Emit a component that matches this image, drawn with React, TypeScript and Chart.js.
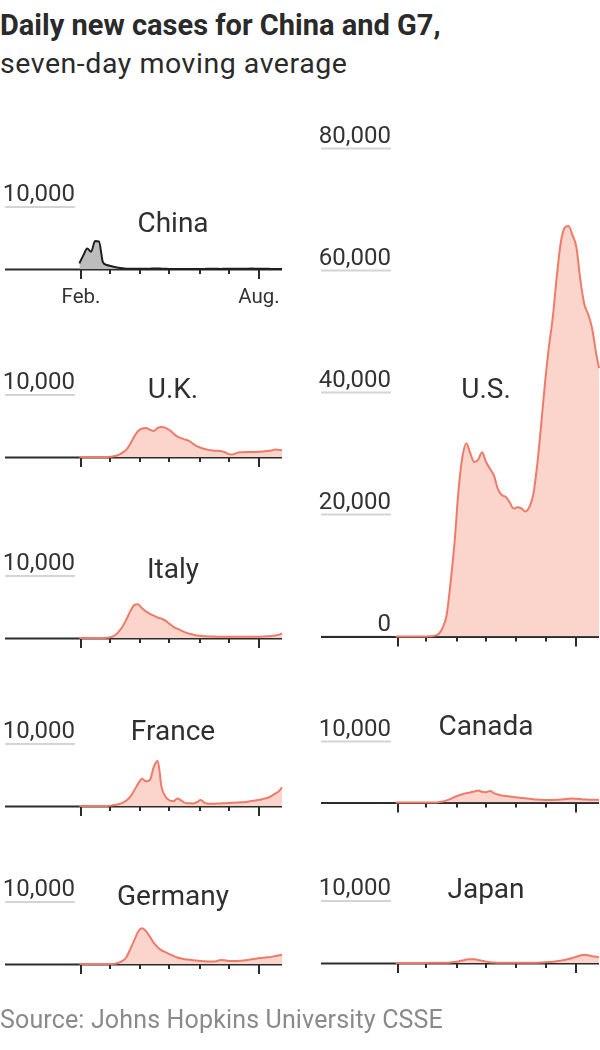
import React, { useEffect, useRef } from "react";
import { Chart, registerables } from "chart.js";

Chart.register(...registerables);

// Day offsets relative to Feb. 1, 2020
const DAYS = [-2, 2, 6, 10, 14, 18, 22, 26, 30, 34, 38, 42, 46, 50, 54, 58, 62, 66, 70, 74, 78, 82, 86, 90, 94, 98, 102, 106, 110, 114, 118, 122, 126, 130, 134, 138, 142, 146, 150, 154, 158, 162, 166, 170, 174, 178, 182, 186, 190, 194, 198, 202, 205];

const CHINA = [900, 2200, 3300, 2800, 4500, 4450, 1100, 650, 480, 330, 200, 110, 60, 50, 50, 60, 50, 40, 40, 80, 100, 60, 30, 15, 10, 10, 10, 15, 15, 10, 10, 15, 20, 25, 30, 25, 20, 40, 60, 50, 40, 30, 40, 60, 70, 60, 40, 30, 25, 20, 20, 20, 20];
const UK = [0, 0, 0, 0, 0, 0, 5, 10, 30, 150, 350, 700, 1200, 2100, 3300, 4200, 4600, 4680, 4400, 4200, 4700, 4850, 4700, 4350, 3800, 3300, 3050, 2800, 2600, 2150, 1750, 1500, 1300, 1150, 1050, 1000, 970, 800, 500, 400, 600, 750, 780, 790, 800, 800, 850, 900, 970, 1050, 1190, 1150, 1080];
const ITALY = [0, 0, 0, 0, 0, 0, 5, 30, 120, 400, 1000, 1800, 3000, 4300, 5300, 5450, 4800, 4300, 3900, 3600, 3300, 3100, 2800, 2300, 1800, 1500, 1200, 900, 700, 550, 420, 360, 300, 260, 230, 210, 200, 200, 200, 200, 190, 190, 200, 200, 200, 200, 210, 240, 280, 330, 400, 550, 740];
const FRANCE = [0, 0, 0, 0, 0, 0, 0, 10, 60, 150, 280, 520, 900, 1500, 2500, 3600, 4400, 4000, 4200, 6300, 7300, 3000, 1500, 900, 750, 1200, 900, 500, 450, 400, 600, 950, 500, 350, 350, 400, 420, 450, 480, 520, 550, 580, 620, 700, 800, 900, 1000, 1150, 1300, 1600, 2000, 2400, 3000];
const GERMANY = [0, 0, 0, 0, 0, 0, 0, 0, 0, 20, 200, 500, 1100, 2400, 3800, 5200, 5750, 5300, 4400, 3400, 2700, 2200, 1900, 1600, 1300, 1050, 900, 780, 700, 620, 550, 480, 430, 420, 400, 450, 650, 600, 500, 470, 480, 520, 580, 650, 750, 850, 950, 1000, 1080, 1150, 1280, 1400, 1500];
const US = [0, 0, 0, 0, 0, 0, 0, 0, 20, 50, 150, 450, 1500, 3600, 9000, 15500, 24000, 29500, 31700, 30000, 28600, 29000, 30200, 28600, 27500, 26400, 24200, 23200, 22900, 22000, 21000, 21200, 21000, 20500, 21200, 23200, 28000, 34500, 41500, 47500, 52400, 59000, 64500, 67000, 67300, 65800, 63800, 58500, 54500, 52800, 50500, 46500, 44000];
const CANADA = [0, 0, 0, 0, 0, 0, 0, 0, 0, 0, 0, 60, 160, 350, 600, 900, 1150, 1350, 1540, 1650, 1800, 1950, 1750, 1700, 1900, 1550, 1300, 1150, 1050, 980, 900, 820, 750, 680, 600, 530, 480, 440, 420, 410, 420, 440, 480, 550, 620, 660, 620, 560, 500, 470, 450, 440, 430];
const JAPAN = [0, 0, 0, 0, 5, 10, 15, 20, 20, 30, 40, 40, 50, 60, 100, 150, 250, 400, 550, 620, 600, 500, 350, 220, 130, 80, 50, 40, 35, 35, 40, 40, 45, 50, 50, 55, 60, 80, 110, 150, 200, 270, 380, 500, 650, 820, 1000, 1200, 1330, 1250, 1100, 1000, 960];

const MONTH_DAYS = [0, 29, 60, 90, 121, 151, 182];
const MONTH_LABELS = ["Feb.", "", "", "", "", "", "Aug."];
const SMALL_TICKS = [10000];
const US_TICKS = [0, 20000, 40000, 60000, 80000];

const X_MIN = -78;
const X_MAX = 205;
const FONT = "Roboto, 'Noto Sans', sans-serif";

const PANELS = [
  { name: "China", values: CHINA, col: 0, baseline: 269, px: 0.0062, ymax: 20000, labelOff: 37, ticks: SMALL_TICKS, months: true, china: true },
  { name: "U.K.", values: UK, col: 0, baseline: 457, px: 0.0062, ymax: 20000, labelOff: 59, ticks: SMALL_TICKS },
  { name: "Italy", values: ITALY, col: 0, baseline: 638, px: 0.0062, ymax: 20000, labelOff: 60, ticks: SMALL_TICKS },
  { name: "France", values: FRANCE, col: 0, baseline: 806, px: 0.0062, ymax: 20000, labelOff: 66, ticks: SMALL_TICKS },
  { name: "Germany", values: GERMANY, col: 0, baseline: 964, px: 0.0062, ymax: 20000, labelOff: 59, ticks: SMALL_TICKS },
  { name: "U.S.", values: US, col: 1, baseline: 636.5, px: 0.0061, ymax: 85000, labelOff: 239, ticks: US_TICKS },
  { name: "Canada", values: CANADA, col: 1, baseline: 802.5, px: 0.0061, ymax: 20000, labelOff: 68, ticks: SMALL_TICKS },
  { name: "Japan", values: JAPAN, col: 1, baseline: 963, px: 0.0062, ymax: 20000, labelOff: 65, ticks: SMALL_TICKS },
];

const TOP_PAD = 12;
const BOTTOM_PAD = 42;

function makeDecor(p: any) {
  return {
    id: "panelDecor",
    beforeDatasetsDraw(chart: any) {
      const { ctx, chartArea, scales } = chart;
      const x = scales.x;
      const y = scales.y;
      ctx.save();
      for (const v of p.ticks) {
        const py = y.getPixelForValue(v);
        ctx.strokeStyle = "#d4d4d4";
        ctx.lineWidth = 2;
        ctx.beginPath();
        ctx.moveTo(chartArea.left, py);
        ctx.lineTo(chartArea.left + 70, py);
        ctx.stroke();
        ctx.fillStyle = "#333";
        ctx.font = `24px ${FONT}`;
        ctx.textAlign = "right";
        ctx.textBaseline = "alphabetic";
        ctx.fillText(v.toLocaleString("en-US"), chartArea.left + 70, py - 6);
      }
      const y0 = y.getPixelForValue(0);
      ctx.strokeStyle = "#2b2b2b";
      ctx.lineWidth = 2;
      ctx.beginPath();
      ctx.moveTo(chartArea.left, y0 + 0.5);
      ctx.lineTo(chartArea.right, y0 + 0.5);
      ctx.stroke();
      MONTH_DAYS.forEach((d, i) => {
        const px = Math.round(x.getPixelForValue(d));
        const long = i === 0 || i === MONTH_DAYS.length - 1;
        ctx.beginPath();
        ctx.moveTo(px, y0);
        ctx.lineTo(px, y0 + (long ? 10 : 5));
        ctx.stroke();
        if (p.months && MONTH_LABELS[i]) {
          ctx.fillStyle = "#333";
          ctx.font = `20.5px ${FONT}`;
          ctx.textAlign = "center";
          ctx.fillText(MONTH_LABELS[i], px, y0 + 34);
        }
      });
      ctx.restore();
    },
    afterDatasetsDraw(chart: any) {
      const { ctx, chartArea, scales } = chart;
      const y0 = scales.y.getPixelForValue(0);
      ctx.save();
      ctx.fillStyle = "#2f2f2f";
      ctx.font = `28px ${FONT}`;
      ctx.textAlign = "center";
      ctx.textBaseline = "alphabetic";
      ctx.fillText(p.name, chartArea.left + (p.col === 0 ? 168 : 165), y0 - p.labelOff);
      ctx.restore();
    },
  };
}

function Panel({ p }: { p: any }) {
  const ref = useRef<HTMLCanvasElement | null>(null);
  const area = p.ymax * p.px;
  const top = Math.round(p.baseline - area - TOP_PAD);
  const height = Math.round(p.baseline + BOTTOM_PAD) - top;
  const left = p.col === 0 ? 0 : 300;
  const padTop = p.baseline - area - top;
  const padBottom = top + height - p.baseline;

  useEffect(() => {
    if (!ref.current) return;
    const chart = new Chart(ref.current, {
      type: "line",
      data: {
        datasets: [
          {
            data: DAYS.map((d, i) => ({ x: d, y: p.values[i] })),
            borderColor: p.china ? "#1e1e1e" : "#ee7b6a",
            backgroundColor: p.china ? "#bdbdbd" : "#fbd5cb",
            borderWidth: 2,
            fill: "origin",
            pointRadius: 0,
            cubicInterpolationMode: "monotone",
            clip: false as any,
          },
        ],
      },
      options: {
        responsive: false,
        animation: false,
        devicePixelRatio: 1,
        events: [],
        layout: {
          padding: {
            left: p.col === 0 ? 5 : 21,
            right: p.col === 0 ? 18 : 1,
            top: padTop,
            bottom: padBottom,
          },
        },
        plugins: { legend: { display: false }, tooltip: { enabled: false } },
        scales: {
          x: { type: "linear", min: X_MIN, max: X_MAX, display: false },
          y: { type: "linear", min: 0, max: p.ymax, display: false },
        },
      },
      plugins: [makeDecor(p)],
    });
    return () => chart.destroy();
  }, []);

  return (
    <canvas
      ref={ref}
      width={300}
      height={height}
      style={{ position: "absolute", left, top, width: 300, height, display: "block" }}
    />
  );
}

export default function App() {
  return (
    <div style={{ position: "absolute", left: 0, top: 0, width: 600, height: 1050, background: "#fff", fontFamily: FONT, overflow: "hidden" }}>
      <div style={{ position: "absolute", left: 0, top: 10.5, fontSize: 29, fontWeight: 700, lineHeight: 1, whiteSpace: "nowrap", color: "#2a2a2a" }}>
        Daily new cases for China and G7,
      </div>
      <div style={{ position: "absolute", left: 0, top: 50, fontSize: 28.5, fontWeight: 400, lineHeight: 1, whiteSpace: "nowrap", letterSpacing: 0.55, color: "#2a2a2a" }}>
        seven-day moving average
      </div>
      {PANELS.map((p) => (
        <Panel key={p.name} p={p} />
      ))}
      <div style={{ position: "absolute", left: 0, top: 1007, fontSize: 25, fontWeight: 400, lineHeight: 1, whiteSpace: "nowrap", letterSpacing: 0.15, color: "#8a8a8a" }}>
        Source: Johns Hopkins University CSSE
      </div>
    </div>
  );
}
